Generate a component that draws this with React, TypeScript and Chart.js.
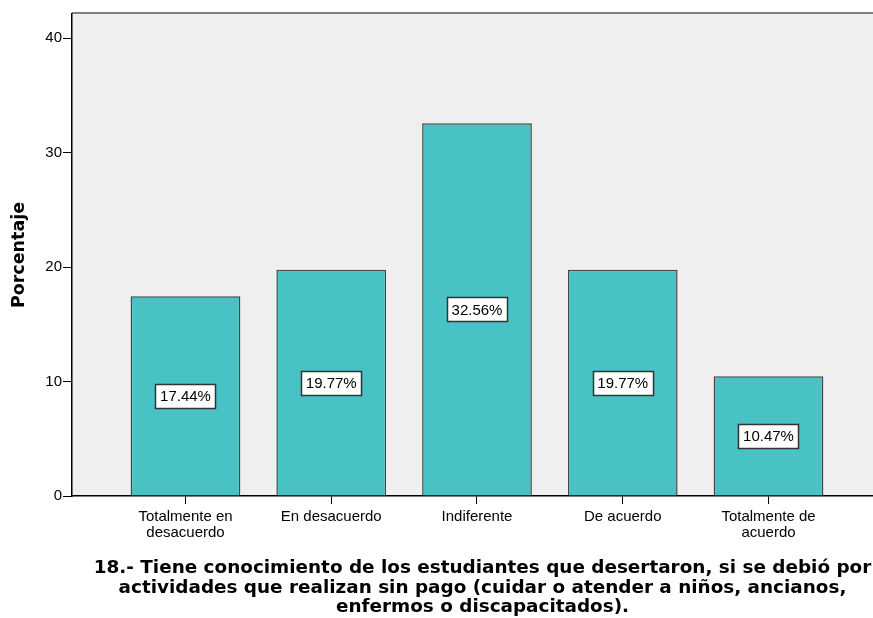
import React, { useEffect, useRef } from 'react';
import { Chart, registerables } from 'chart.js';

Chart.register(...registerables);

// ---- data ----
const categories = ['Totalmente en desacuerdo', 'En desacuerdo', 'Indiferente', 'De acuerdo', 'Totalmente de acuerdo'];
const categoryLines = [['Totalmente en', 'desacuerdo'], ['En desacuerdo'], ['Indiferente'], ['De acuerdo'], ['Totalmente de', 'acuerdo']];
const percentages = [17.44, 19.77, 32.56, 19.77, 10.47];
const yTickValues = [0, 10, 20, 30, 40];
const yAxisTitle = 'Porcentaje';
const chartTitleLines = [
  '18.- Tiene conocimiento de los estudiantes que desertaron, si se debió por',
  'actividades que realizan sin pago (cuidar o atender a niños, ancianos,',
  'enfermos o discapacitados).',
];

const W = 873;
const H = 618;

const backgroundPlugin = {
  id: 'plotBackground',
  beforeDraw(chart: any) {
    const { ctx, chartArea } = chart;
    ctx.save();
    ctx.fillStyle = '#ffffff';
    ctx.fillRect(0, 0, chart.width, chart.height);
    ctx.fillStyle = '#EFEFEF';
    ctx.fillRect(chartArea.left, chartArea.top, chartArea.right - chartArea.left, chartArea.bottom - chartArea.top);
    ctx.strokeStyle = '#808080';
    ctx.lineWidth = 2;
    ctx.beginPath();
    ctx.moveTo(chartArea.left, chartArea.top - 1);
    ctx.lineTo(chartArea.right, chartArea.top - 1);
    ctx.stroke();
    ctx.restore();
  },
};

const labelPlugin = {
  id: 'barLabels',
  afterDatasetsDraw(chart: any) {
    const { ctx } = chart;
    const meta = chart.getDatasetMeta(0);
    ctx.save();
    ctx.font = '15px "Liberation Sans", Arial, sans-serif';
    ctx.textAlign = 'center';
    ctx.textBaseline = 'middle';
    meta.data.forEach((bar: any, i: number) => {
      const text = percentages[i].toFixed(2) + '%';
      const cx = bar.x;
      const cy = (bar.y + bar.base) / 2;
      const bw = 60;
      const bh = 24;
      const x0 = Math.round(cx - bw / 2) + 0.5;
      const y0 = Math.round(cy - bh / 2) + 0.5;
      ctx.fillStyle = '#ffffff';
      ctx.fillRect(x0, y0, bw, bh);
      ctx.strokeStyle = '#333333';
      ctx.lineWidth = 1.5;
      ctx.strokeRect(x0, y0, bw, bh);
      ctx.fillStyle = '#000000';
      ctx.fillText(text, cx, cy + 1);
    });
    ctx.restore();
  },
};

const titlePlugin = {
  id: 'bottomTitle',
  afterDraw(chart: any) {
    const { ctx, chartArea } = chart;
    ctx.save();
    ctx.font = 'bold 18.4px "DejaVu Sans", Verdana, sans-serif';
    ctx.fillStyle = '#000000';
    ctx.textAlign = 'center';
    ctx.textBaseline = 'alphabetic';
    const cx = (chartArea.left + chartArea.right) / 2 + 10;
    const firstBaseline = chartArea.bottom + 77;
    chartTitleLines.forEach((line, i) => {
      ctx.fillText(line, cx, firstBaseline + i * 19.5);
    });
    ctx.restore();
  },
};

export default function App() {
  const canvasRef = useRef<HTMLCanvasElement | null>(null);

  useEffect(() => {
    document.body.style.margin = '0';
    const canvas = canvasRef.current;
    if (!canvas) return;
    const chart = new Chart(canvas, {
      type: 'bar',
      data: {
        datasets: [
          {
            label: yAxisTitle,
            data: percentages.map((v, i) => ({ x: i + 1, y: v })),
            backgroundColor: '#48C2C5',
            borderColor: '#454545',
            borderWidth: 1.5,
            categoryPercentage: 1,
            barPercentage: 0.753,
          },
        ],
      },
      options: {
        responsive: false,
        animation: false,
        devicePixelRatio: 1,
        layout: { padding: { top: 14, left: 0, right: 0, bottom: 0 } },
        plugins: {
          legend: { display: false },
          tooltip: { enabled: false },
          title: { display: false },
        },
        scales: {
          x: {
            type: 'linear',
            offset: false,
            min: 0.2213,
            max: 5.717,
            afterBuildTicks(scale: any) {
              scale.ticks = categories.map((_, i) => ({ value: i + 1 }));
            },
            afterFit(scale: any) {
              scale.height = 122;
            },
            ticks: {
              autoSkip: false,
              maxRotation: 0,
              minRotation: 0,
              padding: 5,
              color: '#000000',
              font: { family: '"Liberation Sans", Arial, sans-serif', size: 15, lineHeight: 1.07 },
              callback: (v: any) => {
                const idx = Math.round(Number(v)) - 1;
                return categoryLines[idx] ?? '';
              },
            },
            grid: { offset: false, drawOnChartArea: false, drawTicks: true, tickLength: 8, color: '#000000' },
            border: { display: true, color: '#000000', width: 1.5 },
          },
          y: {
            type: 'linear',
            min: 0,
            max: 42.1,
            afterBuildTicks(scale: any) {
              scale.ticks = yTickValues.map((v) => ({ value: v }));
            },
            afterFit(scale: any) {
              scale.width = 72;
            },
            ticks: {
              padding: 1,
              color: '#000000',
              font: { family: '"Liberation Sans", Arial, sans-serif', size: 15 },
            },
            grid: { drawOnChartArea: false, drawTicks: true, tickLength: 9, color: '#000000' },
            border: { display: true, color: '#000000', width: 1.5 },
            title: {
              display: true,
              text: yAxisTitle,
              color: '#000000',
              font: { family: '"DejaVu Sans", Verdana, sans-serif', size: 17.5, weight: 'bold' },
              padding: { top: 9, bottom: 0 },
            },
          },
        },
      } as any,
      plugins: [backgroundPlugin, labelPlugin, titlePlugin],
    });
    return () => chart.destroy();
  }, []);

  return (
    <div style={{ position: 'absolute', left: 0, top: 0, width: W, height: H }}>
      <canvas ref={canvasRef} width={W} height={H} style={{ display: 'block' }} />
    </div>
  );
}
